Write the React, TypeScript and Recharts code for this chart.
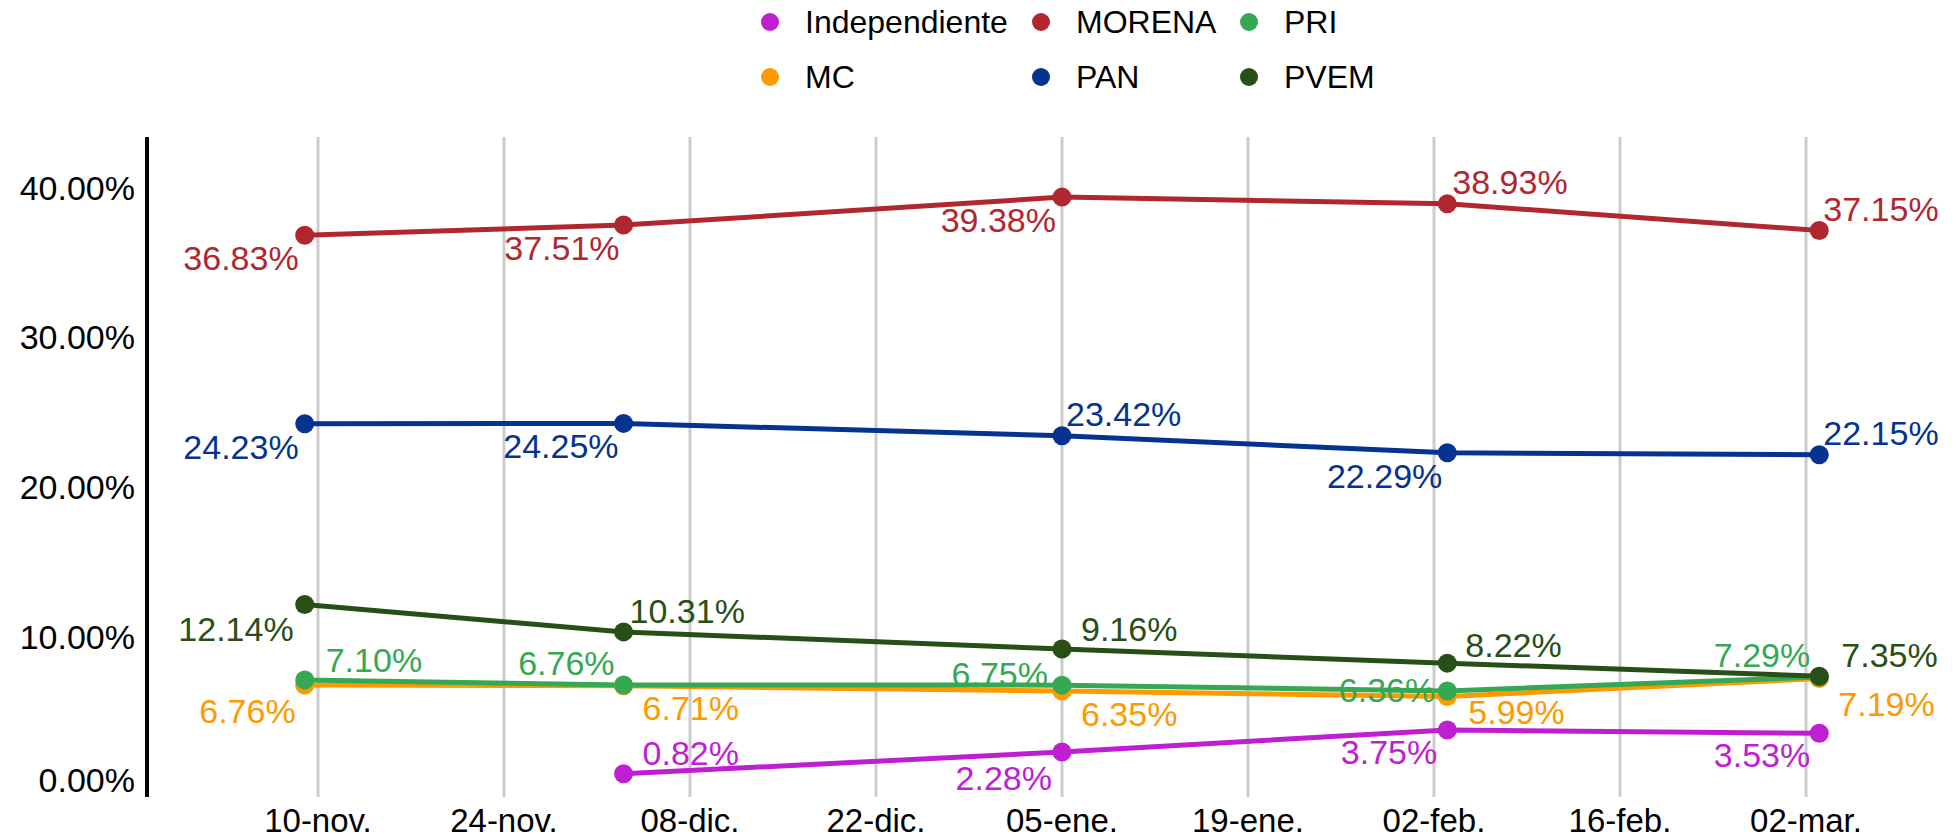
import { CartesianGrid, LabelList, Line, LineChart, XAxis, YAxis } from "recharts"

const surveyDates = ["2022-11-09", "2022-12-03", "2023-01-05", "2023-02-03", "2023-03-03"]

const independiente = [null, 0.82, 2.28, 3.75, 3.53]
const mc = [6.76, 6.71, 6.35, 5.99, 7.19]
const morena = [36.83, 37.51, 39.38, 38.93, 37.15]
const pan = [24.23, 24.25, 23.42, 22.29, 22.15]
const pri = [7.1, 6.76, 6.75, 6.36, 7.29]
const pvem = [12.14, 10.31, 9.16, 8.22, 7.35]

const tickDates = [
  "2022-11-10", "2022-11-24", "2022-12-08", "2022-12-22", "2023-01-05",
  "2023-01-19", "2023-02-02", "2023-02-16", "2023-03-02",
]
const tickLabels = ["10-nov.", "24-nov.", "08-dic.", "22-dic.", "05-ene.", "19-ene.", "02-feb.", "16-feb.", "02-mar."]
const yTicks = [0, 10, 20, 30, 40]

const FONT = "'Liberation Sans', Arial, Helvetica, sans-serif"

const toDay = (s: string) => Date.parse(s + "T00:00:00Z") / 86400000

// label placement per point: [dx, dy] from the dot (dx < 0 -> text ends left of dot)
const series = [
  { key: "Independiente", values: independiente, color: "#c01ed2",
    offsets: [null, [19, -21], [-10, 26], [-10, 22], [-9, 22]] },
  { key: "MC", values: mc, color: "#ff9900",
    offsets: [[-9, 26], [19, 22], [19, 23], [21, 15], [19, 25]] },
  { key: "MORENA", values: morena, color: "#b02730",
    offsets: [[-6, 23], [-4, 23], [-6, 23], [5, -22], [4, -22]] },
  { key: "PAN", values: pan, color: "#05338f",
    offsets: [[-6, 23], [-5, 23], [4, -22], [-5, 23], [4, -22]] },
  { key: "PRI", values: pri, color: "#34a853",
    offsets: [[21, -20], [-9, -22], [-14, -11], [-12, -1], [-9, -22]] },
  { key: "PVEM", values: pvem, color: "#284f16",
    offsets: [[-11, 24], [6, -21], [19, -20], [18, -18], [22, -21]] },
]

const legendOrder = ["Independiente", "MORENA", "PRI", "MC", "PAN", "PVEM"]

const data = surveyDates.map((d, i) => {
  const row: Record<string, number | null> = { day: toDay(d) }
  series.forEach((s) => {
    row[s.key] = s.values[i]
  })
  return row
})

const tickDays = tickDates.map(toDay)
const xDomain = [tickDays[0] - 12.87, tickDays[tickDays.length - 1] + 7]

const makeLabel = (color: string, offsets: (number[] | null)[]) => (props: any) => {
  const { value, index } = props
  const x = props.x ?? props.viewBox?.x
  const y = props.y ?? props.viewBox?.y
  if (value == null || x == null || y == null) return null
  const off = offsets[index]
  if (!off) return null
  const [dx, dy] = off
  return (
    <text
      x={x + dx}
      y={y + dy}
      dy="0.355em"
      textAnchor={dx < 0 ? "end" : "start"}
      fill={color}
      fontSize={34}
      fontFamily={FONT}
    >
      {Number(value).toFixed(2)}%
    </text>
  )
}

const YTick = (p: any) => {
  const v = p.payload.value
  return (
    <text
      x={p.x}
      y={p.y + (v === 0 ? -6 : 0)}
      dy="0.355em"
      textAnchor="end"
      fill="#000"
      fontSize={34}
      fontFamily={FONT}
    >
      {`${v.toFixed(2)}%`}
    </text>
  )
}

function Legend6() {
  return (
    <div
      style={{
        position: "absolute",
        left: 761,
        top: 0,
        display: "grid",
        gridTemplateColumns: "271px 208px auto",
        gridAutoRows: "44px",
        rowGap: 11,
        fontFamily: FONT,
        fontSize: 32,
        color: "#000",
      }}
    >
      {legendOrder.map((name) => {
        const s = series.find((x) => x.key === name)!
        return (
          <div key={name} style={{ display: "flex", alignItems: "center", height: 44 }}>
            <span
              style={{
                display: "inline-block",
                width: 18,
                height: 18,
                borderRadius: 9,
                background: s.color,
                marginRight: 26,
              }}
            />
            <span>{name}</span>
          </div>
        )
      })}
    </div>
  )
}

export default function App() {
  return (
    <div style={{ position: "relative", width: 1957, height: 840, background: "#fff" }}>
      <style>{"body{margin:0}"}</style>
      <Legend6 />
      <LineChart
        width={1957}
        height={840}
        data={data}
        margin={{ top: 137, right: 58, bottom: 0, left: 0 }}
      >
        <CartesianGrid horizontal={false} stroke="#cccccc" strokeWidth={3} syncWithTicks />
        <XAxis
          dataKey="day"
          type="number"
          domain={xDomain}
          allowDataOverflow
          ticks={tickDays}
          tickFormatter={(v: number) => tickLabels[tickDays.indexOf(v)] ?? ""}
          axisLine={false}
          tickLine={false}
          tickSize={0}
          tickMargin={12}
          height={43}
          interval={0}
          tick={{ fill: "#000", fontSize: 33, fontFamily: FONT }}
        />
        <YAxis
          type="number"
          domain={[-0.73, 43.4]}
          allowDataOverflow
          ticks={yTicks}
          axisLine={{ stroke: "#000", strokeWidth: 4 }}
          tickLine={false}
          tickSize={0}
          tickMargin={12}
          width={147}
          interval={0}
          tick={<YTick />}
        />
        {series.map((s) => (
          <Line
            key={s.key}
            dataKey={s.key}
            stroke={s.color}
            strokeWidth={5}
            dot={{ r: 9.5, fill: s.color, stroke: "none", strokeWidth: 0 }}
            activeDot={false}
            isAnimationActive={false}
            connectNulls={false}
          >
            <LabelList dataKey={s.key} content={makeLabel(s.color, s.offsets)} />
          </Line>
        ))}
      </LineChart>
    </div>
  )
}
